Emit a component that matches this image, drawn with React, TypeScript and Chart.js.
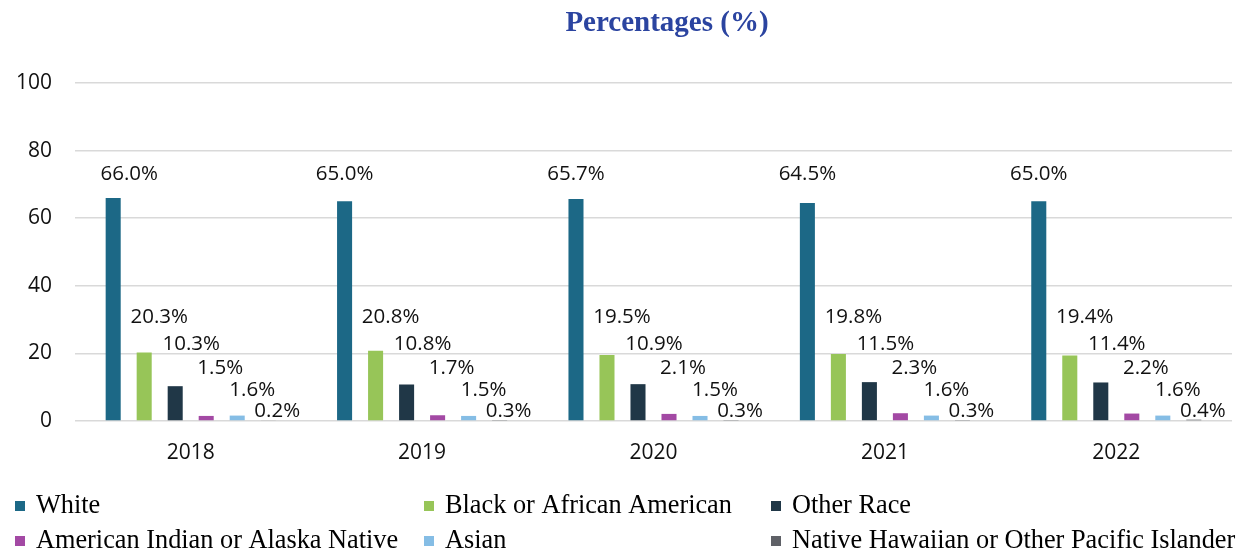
import React, { useEffect, useRef } from "react";
import { Chart, registerables } from "chart.js";

Chart.register(...registerables);

// ---- data ----
const years = ["2018", "2019", "2020", "2021", "2022"];
const seriesNames = [
  "White",
  "Black or African American",
  "Other Race",
  "American Indian or Alaska Native",
  "Asian",
  "Native Hawaiian or Other Pacific Islander",
];
const white = [66.0, 65.0, 65.7, 64.5, 65.0];
const black = [20.3, 20.8, 19.5, 19.8, 19.4];
const otherRace = [10.3, 10.8, 10.9, 11.5, 11.4];
const amIndian = [1.5, 1.7, 2.1, 2.3, 2.2];
const asian = [1.6, 1.5, 1.5, 1.6, 1.6];
const nhpi = [0.2, 0.3, 0.3, 0.3, 0.4];
const yTicks = [0, 20, 40, 60, 80, 100];

// ---- styles / layout ----
const colors = ["#1C6886", "#97C558", "#203747", "#A349A4", "#85BDE5", "#5F6167"];
const labelLevel = [71.3, 29.0, 21.1, 13.9, 7.4, 1.2]; // label baselines in axis units
const labelNudgeX = [0, 15, 16, 14, 15, 9];
const whiteNudgeX = [16, 0, 0, 0, 0];
const legendCols = [15, 424, 771];
const legendRows = [513, 548];

const TICK_FONT = '"Open Sans", "Noto Sans", sans-serif';
const LABEL_FONT = '"Liberation Sans Narrow", "Open Sans", sans-serif';
const SERIF = '"Liberation Serif", "DejaVu Serif", serif';

const overlayPlugin = {
  id: "overlay",
  afterDatasetsDraw(chart: any) {
    const ctx = chart.ctx;
    const yScale = chart.scales.y;
    ctx.save();
    ctx.font = `20.5px ${LABEL_FONT}`;
    ctx.fillStyle = "#111";
    ctx.textAlign = "center";
    ctx.textBaseline = "alphabetic";
    chart.data.datasets.forEach((ds: any, i: number) => {
      const meta = chart.getDatasetMeta(i);
      meta.data.forEach((el: any, j: number) => {
        const x = el.x + labelNudgeX[i] + (i === 0 ? whiteNudgeX[j] : 0);
        const y = yScale.getPixelForValue(labelLevel[i]);
        ctx.fillText(`${Number(ds.data[j]).toFixed(1)}%`, x, y);
      });
    });
    ctx.restore();
  },
  afterDraw(chart: any) {
    const ctx = chart.ctx;
    ctx.save();
    // title
    ctx.font = `bold 29px ${SERIF}`;
    ctx.fillStyle = "#2B44A0";
    ctx.textAlign = "center";
    ctx.textBaseline = "alphabetic";
    ctx.fillText("Percentages (%)", 667, 31);
    // legend
    ctx.font = `26.3px ${SERIF}`;
    ctx.textAlign = "left";
    chart.data.datasets.forEach((ds: any, i: number) => {
      const col = i % 3;
      const row = Math.floor(i / 3);
      const x = legendCols[col];
      const base = legendRows[row];
      ctx.fillStyle = ds.backgroundColor;
      ctx.fillRect(x, base - 12, 10, 10);
      ctx.fillStyle = "#000";
      ctx.fillText(ds.label, x + 21, base);
    });
    ctx.restore();
  },
};

export default function App() {
  const ref = useRef<HTMLCanvasElement | null>(null);
  useEffect(() => {
    if (!ref.current) return;
    const seriesData = [white, black, otherRace, amIndian, asian, nhpi];
    const chart = new Chart(ref.current, {
      type: "bar",
      data: {
        labels: years,
        datasets: seriesData.map((d, i) => ({
          label: seriesNames[i],
          data: d,
          backgroundColor: colors[i],
          borderWidth: 0,
          categoryPercentage: 0.804,
          barPercentage: 0.485,
        })),
      },
      options: {
        animation: false,
        responsive: true,
        maintainAspectRatio: false,
        layout: { padding: { top: 83, right: 24, left: 0, bottom: 0 } },
        plugins: {
          legend: { display: false },
          title: { display: false },
          tooltip: { enabled: false },
        },
        scales: {
          x: {
            grid: { display: false, drawTicks: false },
            border: { display: false },
            ticks: {
              font: { family: TICK_FONT, size: 21 },
              color: "#111",
              padding: 19,
            },
            afterFit(scale: any) {
              scale.height = 135;
            },
          },
          y: {
            min: 0,
            max: 100,
            afterBuildTicks(scale: any) {
              scale.ticks = yTicks.map((v) => ({ value: v }));
            },
            grid: { color: "#D9D9D9", lineWidth: 1.5, drawTicks: false },
            border: { display: false },
            ticks: {
              font: { family: TICK_FONT, size: 21 },
              color: "#111",
              padding: 23,
            },
            afterFit(scale: any) {
              scale.width = 75;
            },
          },
        },
      },
      plugins: [overlayPlugin],
    });
    return () => chart.destroy();
  }, []);
  return (
    <div style={{ position: "absolute", left: 0, top: 0, width: 1256, height: 556, background: "#fff" }}>
      <canvas ref={ref} />
    </div>
  );
}
